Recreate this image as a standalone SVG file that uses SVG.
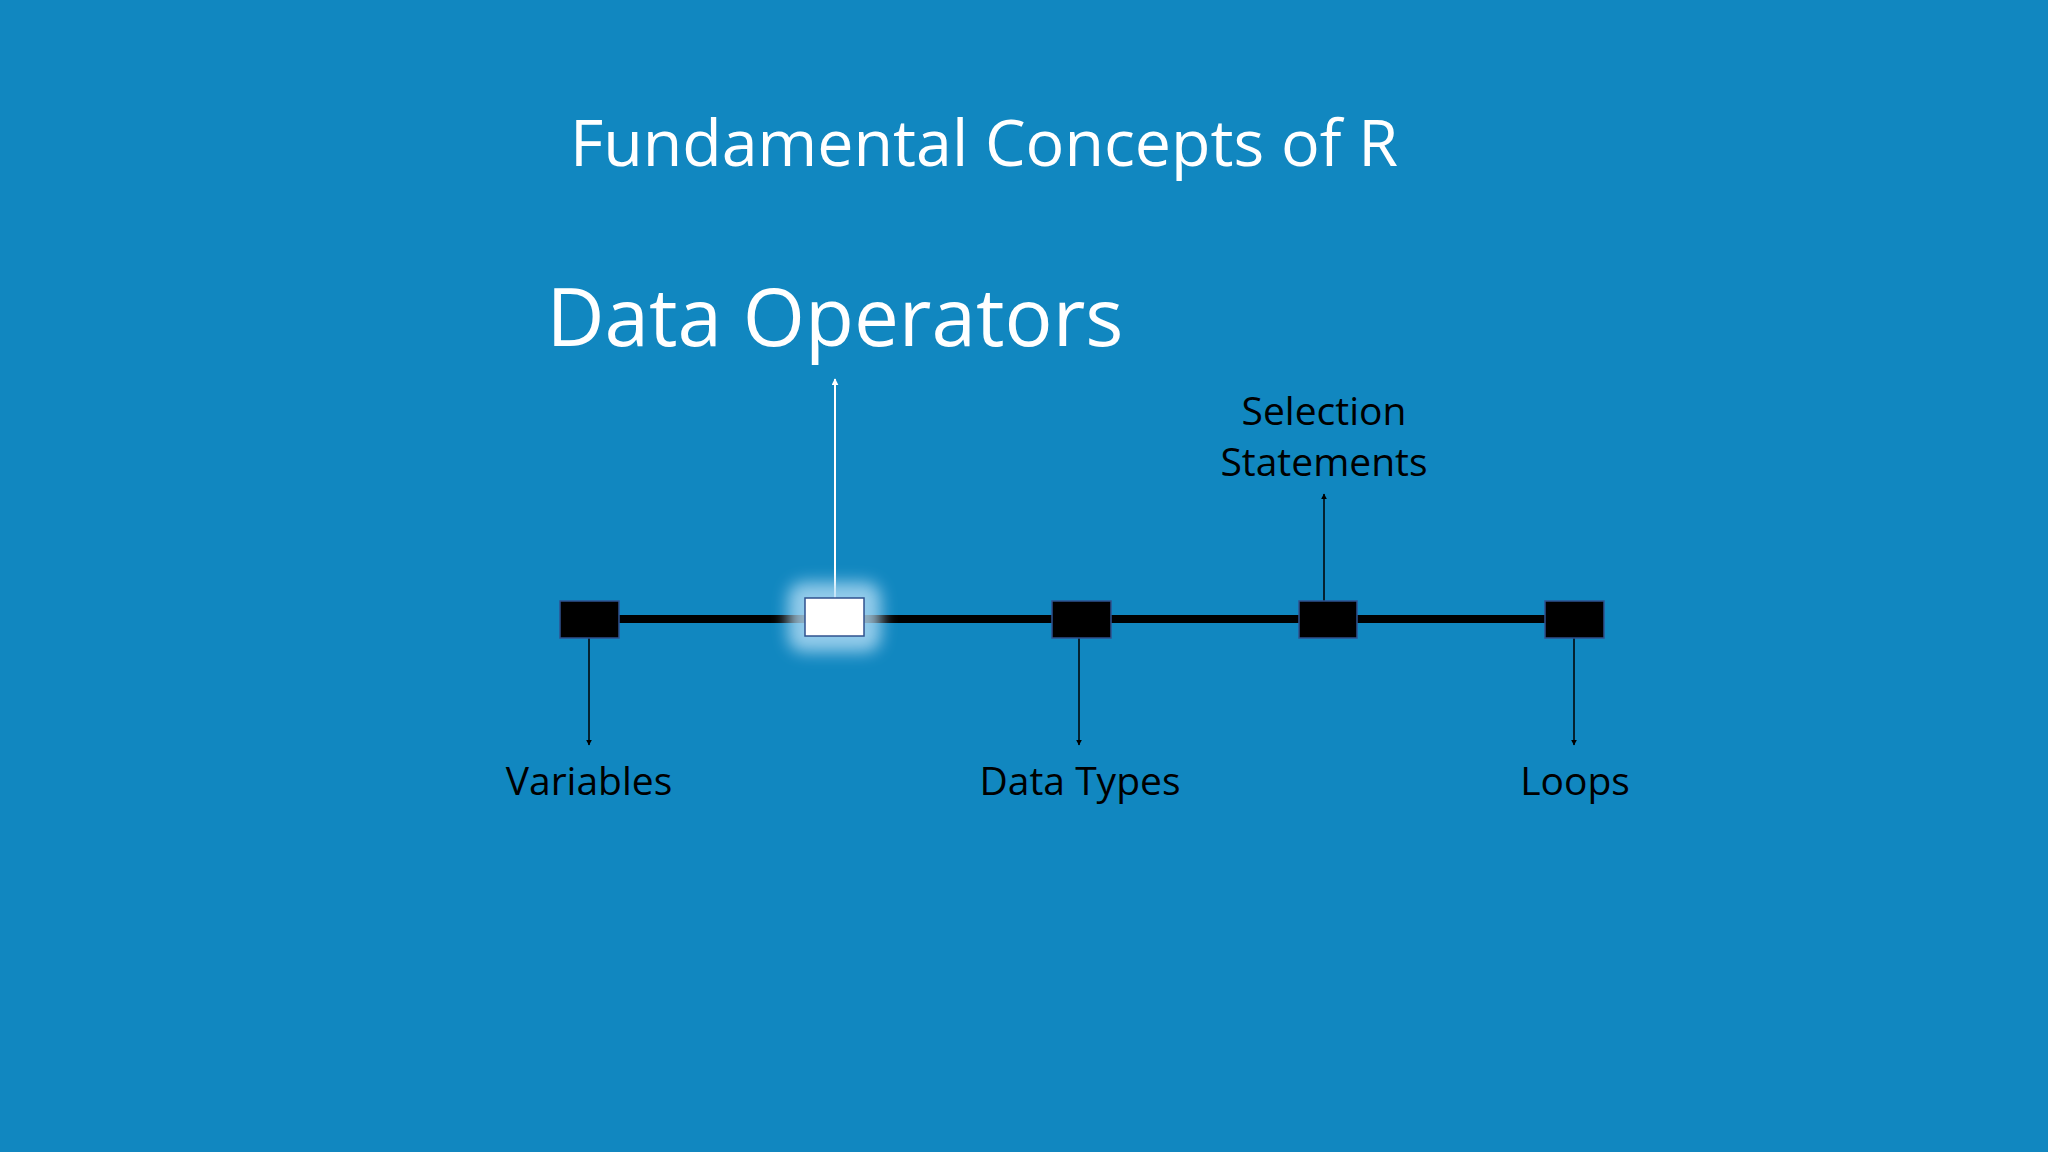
<svg xmlns="http://www.w3.org/2000/svg" width="2048" height="1152" viewBox="0 0 2048 1152">
  <style>
    .title { font-family: "Open Sans", "Noto Sans", sans-serif; fill: #ffffff; }
    .label { font-family: "Open Sans", "Noto Sans", sans-serif; fill: #000000; font-size: 39px; text-anchor: middle; }
    .box { fill: #000000; stroke: #2F528F; stroke-width: 1.5; }
    .conn { stroke: #000000; stroke-width: 1.5; fill: none; }
  </style>
  <defs>
    <marker id="arrowBlack" viewBox="0 0 10 10" refX="9" refY="5" markerWidth="6" markerHeight="6" markerUnits="userSpaceOnUse" orient="auto">
      <path d="M0,0 L10,5 L0,10 z" fill="#000000"/>
    </marker>
    <marker id="arrowWhite" viewBox="0 0 10 10" refX="9" refY="5" markerWidth="7" markerHeight="7" markerUnits="userSpaceOnUse" orient="auto">
      <path d="M0,0 L10,5 L0,10 z" fill="#ffffff"/>
    </marker>
    <filter id="glow" x="-50%" y="-80%" width="200%" height="260%">
      <feGaussianBlur stdDeviation="8"/>
    </filter>
  </defs>
  <rect x="0" y="0" width="2048" height="1152" fill="#1187C0"/>

  <text class="title" x="984" y="166" font-size="64.5" text-anchor="middle">Fundamental Concepts of R</text>
  <text class="title" x="835" y="346" font-size="80" text-anchor="middle">Data Operators</text>

  <g id="connectors">
    <line x1="619" y1="619" x2="1545" y2="619" stroke="#000000" stroke-width="8"/>
    <line class="conn" x1="589" y1="638" x2="589" y2="745" marker-end="url(#arrowBlack)"/>
    <line class="conn" x1="1079" y1="638" x2="1079" y2="745" marker-end="url(#arrowBlack)"/>
    <line class="conn" x1="1574" y1="638" x2="1574" y2="745" marker-end="url(#arrowBlack)"/>
    <line class="conn" x1="1324" y1="601" x2="1324" y2="494" marker-end="url(#arrowBlack)"/>
    <line x1="835" y1="598" x2="835" y2="379" stroke="#ffffff" stroke-width="2" marker-end="url(#arrowWhite)"/>
  </g>

  <g id="node-variables">
    <rect class="box" x="560" y="601" width="59" height="37"/>
    <text class="label" x="589" y="795">Variables</text>
  </g>
  <g id="node-data-operators">
    <rect x="788" y="582" width="93" height="70" rx="16" fill="#B4DDF5" opacity="0.8" filter="url(#glow)"/>
    <rect x="805" y="598" width="59" height="38" fill="#ffffff" stroke="#2F528F" stroke-width="1.5"/>
  </g>
  <g id="node-data-types">
    <rect class="box" x="1052" y="601" width="59" height="37"/>
    <text class="label" x="1080" y="795">Data Types</text>
  </g>
  <g id="node-selection">
    <rect class="box" x="1299" y="601" width="58" height="37"/>
    <text class="label" x="1324" y="425">Selection</text>
    <text class="label" x="1324" y="476">Statements</text>
  </g>
  <g id="node-loops">
    <rect class="box" x="1545" y="601" width="59" height="37"/>
    <text class="label" x="1575" y="795">Loops</text>
  </g>
</svg>
